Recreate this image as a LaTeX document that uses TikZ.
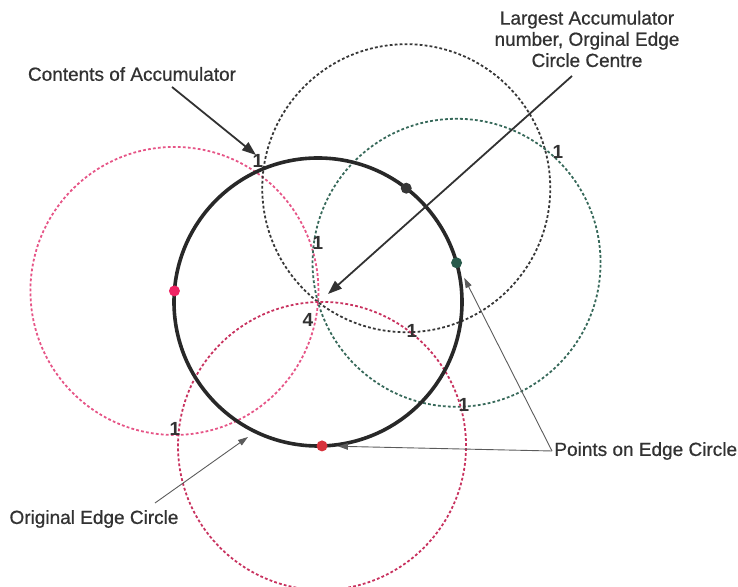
\documentclass[tikz,border=0pt]{standalone}
\usepackage{fontspec}
\setmainfont{Liberation Sans}
\newfontfamily\calloutfont{Liberation Sans}[BoldFont={Liberation Sans}, BoldFeatures={FakeBold=0.7}]
\usepackage{xcolor}
\usetikzlibrary{arrows.meta,calc,positioning}
\definecolor{EdgeCol}{RGB}{40,40,40}
\definecolor{TextCol}{RGB}{50,50,50}
\definecolor{PinkRing}{RGB}{230,85,135}
\definecolor{DarkRing}{RGB}{55,55,55}
\definecolor{TealRing}{RGB}{55,105,90}
\definecolor{RedRing}{RGB}{200,50,95}
\definecolor{PinkDot}{RGB}{240,35,100}
\definecolor{DarkDot}{RGB}{55,55,55}
\definecolor{TealDot}{RGB}{40,90,75}
\definecolor{RedDot}{RGB}{215,50,60}
\tikzset{
  edgecirc/.style={line width=1.8pt, draw=EdgeCol},
  votecirc/.style={line width=0.9pt, dash pattern=on 1.4pt off 1.1pt},
  ptdot/.style={circle, inner sep=0pt, minimum size=5.5pt},
  accnum/.style={font=\fontsize{9.5}{10}\selectfont\bfseries, text=TextCol, inner sep=0.5pt},
  callout/.style={font=\calloutfont\fontsize{9.5}{10.6}\selectfont\bfseries, text=TextCol, align=center, inner sep=1pt},
  bigarrow/.style={-{Triangle[length=7pt,width=5pt]}, line width=0.9pt, draw=TextCol},
  thinarrow/.style={-{Triangle[length=5pt,width=3.2pt]}, line width=0.45pt, draw=TextCol!80}
}
\begin{document}
\begin{tikzpicture}[x=0.5pt,y=0.5pt]
  \useasboundingbox (0,0) rectangle (738,587);
  \coordinate (O) at (318,285);
  % points on the edge circle
  \foreach \ang/\nm in {175.6/pk, 52.2/bk, 15.8/gn, -88.4/rd}
    \coordinate (\nm) at ($(O)+(\ang:144)$);
  % accumulator circles round each point
  \draw[votecirc, draw=PinkRing] (pk) circle[radius=72pt];
  \draw[votecirc, draw=DarkRing] (bk) circle[radius=72pt];
  \draw[votecirc, draw=TealRing] (gn) circle[radius=72pt];
  \draw[votecirc, draw=RedRing] (rd) circle[radius=72pt];
  \draw[edgecirc] (O) circle[radius=72pt];
  \node[ptdot, fill=PinkDot] (dotPk) at (pk) {};
  \node[ptdot, fill=DarkDot] (dotBk) at (bk) {};
  \node[ptdot, fill=TealDot] (dotGn) at (gn) {};
  \node[ptdot, fill=RedDot] (dotRd) at (rd) {};
  % accumulator contents
  \foreach \x/\y/\nm/\v in {258/426/accA/1, 318/344/accB/1, 558/435/accC/1,
      412/256/accD/1, 464/182/accE/1, 175/158/accF/1, 308/267/accMax/4}
    \node[accnum] (\nm) at (\x,\y) {\v};
  % callouts
  \node[callout] (contents) at (132,513) {Contents of Accumulator};
  \node[callout] (largest) at (587,548) {Largest Accumulator\\number, Orginal Edge\\Circle Centre};
  \node[callout, anchor=west] (points) at (552,136) {Points on Edge Circle};
  \node[callout] (original) at (94,68) {Original Edge Circle};
  \coordinate (contTail) at (172,500);
  \coordinate (contTip) at (256,432);
  \coordinate (largTail) at (572,511);
  \coordinate (largTip) at (328,293);
  \coordinate (origTail) at (155,84);
  \coordinate (origTip) at (248,150);
  \draw[bigarrow] (contTail) -- (contTip);
  \draw[bigarrow] (largTail) -- (largTip);
  \draw[thinarrow, shorten >=5.5pt] (points.west) -- (dotGn);
  \draw[thinarrow, shorten >=5pt] (points.west) -- (dotRd);
  \draw[thinarrow] (origTail) -- (origTip);
\end{tikzpicture}
\end{document}
